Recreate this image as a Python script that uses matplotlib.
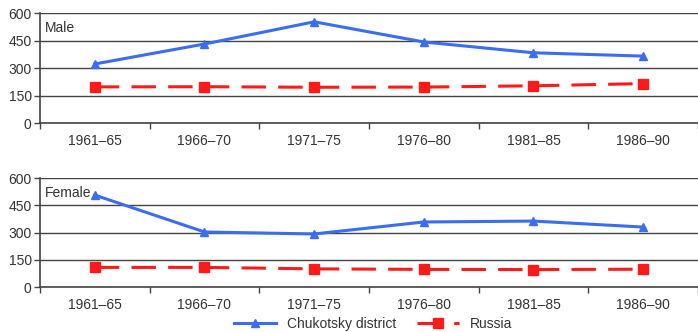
import matplotlib.pyplot as plt

plt.rcParams['font.family'] = ['Liberation Sans', 'DejaVu Sans']

periods = ['1961–65', '1966–70', '1971–75', '1976–80', '1981–85', '1986–90']
male_chukotsky = [322, 431, 552, 442, 383, 365]
male_russia = [197, 198, 195, 196, 203, 215]
female_chukotsky = [506, 303, 292, 358, 363, 330]
female_russia = [108, 108, 100, 97, 96, 98]

blue = '#3a6df0'
red = '#ff1a1a'
grey = '#444444'

fig = plt.figure(figsize=(6.98, 3.32), dpi=100)
ax1 = fig.add_axes([0.0573, 0.6295, 0.9427, 0.3313])
ax2 = fig.add_axes([0.0573, 0.1355, 0.9427, 0.3283])

x = list(range(len(periods)))

for ax, chuk, rus, lab in [(ax1, male_chukotsky, male_russia, 'Male'),
                           (ax2, female_chukotsky, female_russia, 'Female')]:
    l1, = ax.plot(x, chuk, color=blue, lw=2.2, marker='^', ms=6,
                  label='Chukotsky district', zorder=3)
    l2, = ax.plot(x, rus, color=red, lw=2.2, marker='s', ms=6.5,
                  dashes=(8, 4), label='Russia', zorder=3)
    ax.set_xlim(-0.5, 5.5)
    ax.set_ylim(0, 600)
    ax.set_yticks([0, 150, 300, 450, 600])
    ax.yaxis.grid(True, color=grey, lw=1)
    ax.set_axisbelow(True)
    # ticks at category boundaries, labels at centres
    ax.set_xticks([i - 0.5 for i in range(len(periods) + 1)])
    ax.set_xticklabels([])
    ax.set_xticks(x, minor=True)
    ax.set_xticklabels(periods, minor=True)
    ax.tick_params(axis='x', which='major', length=4, color=grey, width=1)
    ax.tick_params(axis='x', which='minor', length=0, pad=8,
                   labelsize=10, labelcolor='#333333')
    ax.tick_params(axis='y', length=4, color=grey, width=1, pad=2,
                   labelsize=10, labelcolor='#333333')
    for s in ['top', 'right']:
        ax.spines[s].set_visible(False)
    for s in ['left', 'bottom']:
        ax.spines[s].set_color(grey)
        ax.spines[s].set_linewidth(1.2)
    ax.text(0.008, 0.93, lab, transform=ax.transAxes, fontsize=10,
            color='#333333', va='top', ha='left')

fig.legend(handles=[l1, l2], loc='center', bbox_to_anchor=(0.535, 0.025),
           ncol=2, frameon=False, fontsize=10, handlelength=3,
           columnspacing=1.5, labelcolor='#333333')

fig.savefig('out.png', dpi=100)
